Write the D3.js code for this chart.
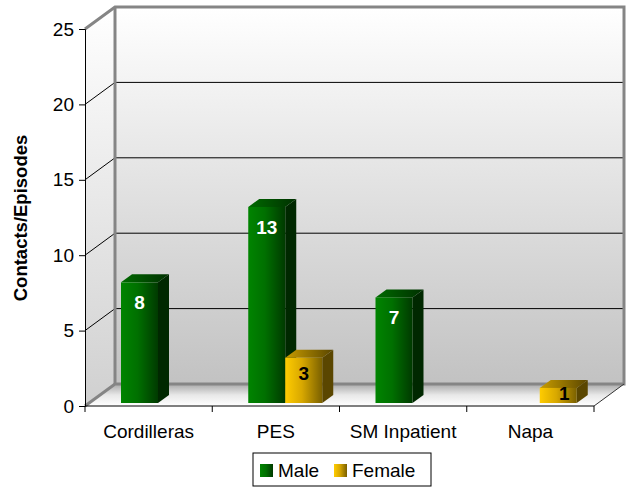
<!DOCTYPE html>
<html lang="en">
<head>
<meta charset="UTF-8" />
<title>Contacts/Episodes</title>
<script src="https://d3js.org/d3.v7.min.js"></script>
<style>
  body { margin:0; padding:0; background:#fff; font-family:"Liberation Sans", Arial, sans-serif; }
  svg { display:block; font-family:"Liberation Sans", Arial, sans-serif; }
  .tick text { font-size:19px; font-family:"Liberation Sans", Arial, sans-serif; fill:#000; }
</style>
</head>
<body>
<svg width="628" height="487"></svg>
<script>
// chart data
const categories = ["Cordilleras", "PES", "SM Inpatient", "Napa"];
const series = ["Male", "Female"];
const maleValues = [8, 13, 7, 0];
const femaleValues = [0, 3, 0, 1];
const yTicks = [0, 5, 10, 15, 20, 25];

(function() {
const svg = d3.select("svg");
const defs = svg.append("defs");

// plot frame (front plane) and 3D offsets
const pLeft = 85, pRight = 594, pTop = 29, pBottom = 406;
const wallDx = 30, wallDy = -22;   // back wall depth
const barDx = 11, barDy = -8;      // bar depth
const barOx = 4, barOy = -3;       // bar front plane offset

const x = d3.scaleBand().domain(categories).range([pLeft, pRight]);
const xs = d3.scaleBand().domain(series).range([32, 106]);
const y = d3.scaleLinear().domain([0, 25]).range([pBottom, pTop]);

// gradients
function linGrad(id, x2, y2, stops) {
  const g = defs.append("linearGradient").attr("id", id)
    .attr("x1", 0).attr("y1", 0).attr("x2", x2).attr("y2", y2);
  stops.forEach(s => g.append("stop").attr("offset", s[0]).attr("stop-color", s[1]));
}
linGrad("wall", 0, 1, [[0, "#ffffff"], [1, "#c2c2c2"]]);
linGrad("side", 0, 1, [[0, "#ffffff"], [1, "#d0d0d0"]]);
linGrad("floor", 0, 1, [[0, "#a8a8a8"], [0.5, "#e8e8e8"], [1, "#ffffff"]]);
linGrad("maleFront", 1, 0, [[0, "#008400"], [0.45, "#007000"], [1, "#003a00"]]);
linGrad("femaleFront", 1, 0, [[0, "#ffcc00"], [0.45, "#d8a800"], [1, "#7a6000"]]);
linGrad("maleTop", 1, 0, [[0, "#006a00"], [1, "#003000"]]);
linGrad("femaleTop", 1, 0, [[0, "#c89c00"], [1, "#5a4600"]]);

// back wall, side wall, floor
const bwTop = y(25) + wallDy, bwBot = y(0) + wallDy;
svg.append("rect")
  .attr("x", pLeft + wallDx).attr("y", bwTop)
  .attr("width", pRight - pLeft).attr("height", bwBot - bwTop)
  .attr("fill", "url(#wall)");
svg.append("polygon")
  .attr("points", [[pLeft, y(25)], [pLeft + wallDx, bwTop], [pLeft + wallDx, bwBot], [pLeft, y(0)]].join(" "))
  .attr("fill", "url(#side)");
svg.append("polygon")
  .attr("points", [[pLeft, y(0)], [pRight, y(0)], [pRight + wallDx, bwBot], [pLeft + wallDx, bwBot]].join(" "))
  .attr("fill", "url(#floor)");

// gridlines
yTicks.filter(v => v > 0 && v < 25).forEach(v => {
  svg.append("line")
    .attr("x1", pLeft).attr("y1", y(v))
    .attr("x2", pLeft + wallDx).attr("y2", y(v) + wallDy)
    .attr("stroke", "#000").attr("stroke-width", 1);
  svg.append("line")
    .attr("x1", pLeft + wallDx).attr("y1", y(v) + wallDy)
    .attr("x2", pRight + wallDx).attr("y2", y(v) + wallDy)
    .attr("stroke", "#000").attr("stroke-width", 1);
});

// gray wall edges
const edge = "#858585";
svg.append("polyline")
  .attr("points", [[pLeft, y(25)], [pLeft + wallDx, bwTop], [pRight + wallDx, bwTop], [pRight + wallDx, bwBot], [pLeft + wallDx, bwBot], [pLeft, y(0)]].join(" "))
  .attr("fill", "none").attr("stroke", edge).attr("stroke-width", 3);
svg.append("line")
  .attr("x1", pLeft + wallDx).attr("y1", bwTop).attr("x2", pLeft + wallDx).attr("y2", bwBot)
  .attr("stroke", edge).attr("stroke-width", 3);
svg.append("line")
  .attr("x1", pRight).attr("y1", y(0)).attr("x2", pRight + wallDx).attr("y2", bwBot)
  .attr("stroke", "#333").attr("stroke-width", 1);

// bars
const bars = [];
categories.forEach((c, i) => {
  [maleValues[i], femaleValues[i]].forEach((v, j) => {
    if (v > 0) bars.push({ cat: c, s: series[j], v: v });
  });
});

const colors = {
  Male:   { front: "url(#maleFront)", top: "url(#maleTop)", side: "#002800", label: "#fff" },
  Female: { front: "url(#femaleFront)", top: "url(#femaleTop)", side: "#5a4600", label: "#000" }
};

const bw = xs.bandwidth();
const bg = svg.append("g");
bars.forEach(d => {
  const x0 = x(d.cat) + xs(d.s) + barOx;
  const x1 = x0 + bw;
  const y0 = y(d.v) + barOy;
  const y1 = y(0) + barOy;
  const col = colors[d.s];
  bg.append("polygon")
    .attr("points", [[x1, y0], [x1 + barDx, y0 + barDy], [x1 + barDx, y1 + barDy], [x1, y1]].join(" "))
    .attr("fill", col.side);
  bg.append("polygon")
    .attr("points", [[x0, y0], [x0 + barDx, y0 + barDy], [x1 + barDx, y0 + barDy], [x1, y0]].join(" "))
    .attr("fill", col.top);
  bg.append("rect")
    .attr("x", x0).attr("y", y0).attr("width", bw).attr("height", y1 - y0)
    .attr("fill", col.front);
  const h = y1 - y0;
  bg.append("text")
    .attr("x", (x0 + x1) / 2 + (d.v < 2 ? 6 : 0))
    .attr("y", y0 + Math.min(20, h * 0.35))
    .attr("dy", "0.35em")
    .attr("text-anchor", "middle")
    .attr("font-size", 19).attr("font-weight", "bold")
    .attr("fill", col.label)
    .text(d.v);
});

// y axis
svg.append("g")
  .attr("transform", `translate(${pLeft},0)`)
  .call(d3.axisLeft(y).tickValues(yTicks).tickSize(6).tickPadding(5))
  .call(g => g.select(".domain").attr("stroke", "#000"))
  .call(g => g.selectAll(".tick line").attr("stroke", "#000"));

// x axis: line with ticks at category boundaries
svg.append("line")
  .attr("x1", pLeft).attr("y1", y(0)).attr("x2", pRight).attr("y2", y(0))
  .attr("stroke", "#000");
const bounds = categories.map(c => x(c)).concat([pRight]);
svg.selectAll(".xtick").data(bounds).enter().append("line")
  .attr("x1", d => d).attr("x2", d => d)
  .attr("y1", y(0)).attr("y2", y(0) + 6)
  .attr("stroke", "#000");
svg.selectAll(".xlabel").data(categories).enter().append("text")
  .attr("x", d => x(d) + x.bandwidth() / 2)
  .attr("y", 438)
  .attr("text-anchor", "middle")
  .attr("font-size", 19)
  .text(d => d);

// y title
svg.append("text")
  .attr("transform", "translate(27,218) rotate(-90)")
  .attr("text-anchor", "middle")
  .attr("font-size", 18.5).attr("font-weight", "bold")
  .text("Contacts/Episodes");

// legend
const lg = svg.append("g").attr("transform", "translate(253,453)");
lg.append("rect").attr("width", 178).attr("height", 33)
  .attr("fill", "#fff").attr("stroke", "#000").attr("stroke-width", 1);
const items = [
  { name: "Male", grad: "url(#maleFront)", x: 7, tx: 25 },
  { name: "Female", grad: "url(#femaleFront)", x: 81, tx: 99 }
];
items.forEach(it => {
  lg.append("rect").attr("x", it.x).attr("y", 11).attr("width", 13).attr("height", 13)
    .attr("fill", it.grad);
  lg.append("text").attr("x", it.tx).attr("y", 24)
    .attr("font-size", 19).text(it.name);
});
})();
</script>
</body>
</html>
